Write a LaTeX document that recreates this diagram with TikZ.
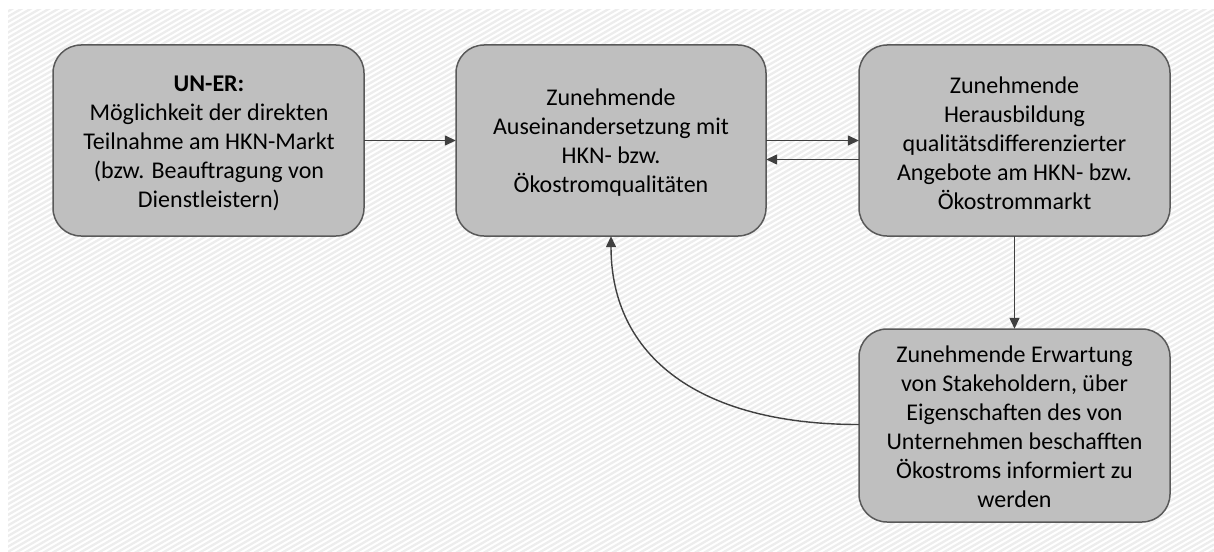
\documentclass[tikz,border=0pt]{standalone}
\usepackage{fontspec}
\setmainfont{Carlito}
\usetikzlibrary{arrows.meta}
\definecolor{boxfill}{HTML}{BFBFBF}
\definecolor{boxline}{HTML}{595959}
\definecolor{arrowline}{HTML}{404040}
\definecolor{hatch}{HTML}{EDEDED}
\begin{document}
\begin{tikzpicture}[x=1pt,y=-1pt,
  box/.style={draw=boxline,line width=1.5pt,fill=boxfill,rounded corners=28pt},
  label/.style={align=center,font=\fontsize{24}{29}\selectfont,text=black,inner sep=0pt},
  conn/.style={draw=arrowline,line width=1.4pt,-{Triangle[length=11pt,width=10pt]}}]
\useasboundingbox (0,0) rectangle (1214,551);
% hatched backdrop
\begin{scope}
  \clip (8,10) rectangle (1214,551);
  \fill[white] (8,10) rectangle (1214,551);
  \foreach \i in {0,...,245} {
    \draw[hatch,line width=2.3pt] (0,{\i*5.3}) -- (1214,{\i*5.3-701});
  }
\end{scope}
% boxes
\path[box] (53,45) rectangle (364,236);
\path[box] (456,45) rectangle (766,236);
\path[box] (859,45) rectangle (1170,236);
\path[box] (859,329) rectangle (1170,522);
\node[minimum width=311pt,minimum height=191pt,inner sep=0pt] (b1) at (208.5,140.5) {};
\node[minimum width=310pt,minimum height=191pt,inner sep=0pt] (b2) at (611,140.5) {};
\node[minimum width=311pt,minimum height=191pt,inner sep=0pt] (b3) at (1014.5,140.5) {};
\node[minimum width=311pt,minimum height=193pt,inner sep=0pt] (b4) at (1014.5,425.5) {};
% texts
\node[label] (t1) at (209,143) {\textbf{UN-ER:}\\Möglichkeit der direkten\\Teilnahme am HKN-Markt\\(bzw. Beauftragung von\\Dienstleistern)};
\node[label] (t2) at (611,143) {Zunehmende\\Auseinandersetzung mit\\HKN- bzw.\\Ökostromqualitäten};
\node[label] (t3) at (1014.5,143) {Zunehmende\\Herausbildung\\qualitätsdifferenzierter\\Angebote am HKN- bzw.\\Ökostrommarkt};
\node[label] (t4) at (1014.5,427) {Zunehmende Erwartung\\von Stakeholdern, über\\Eigenschaften des von\\Unternehmen beschafften\\Ökostroms informiert zu\\werden};
% connectors
\draw[conn] (b1.east) -- (b2.west);
\draw[conn] (b2.east) -- (b3.west);
\draw[conn] ([yshift=-19pt]b3.west) -- ([yshift=-19pt]b2.east);
\draw[conn] (b3.south) -- (b4.north);
\draw[conn] ([yshift=1pt]b4.west) .. controls +(-160,0) and +(0,120) .. (b2.south);
\end{tikzpicture}
\end{document}
